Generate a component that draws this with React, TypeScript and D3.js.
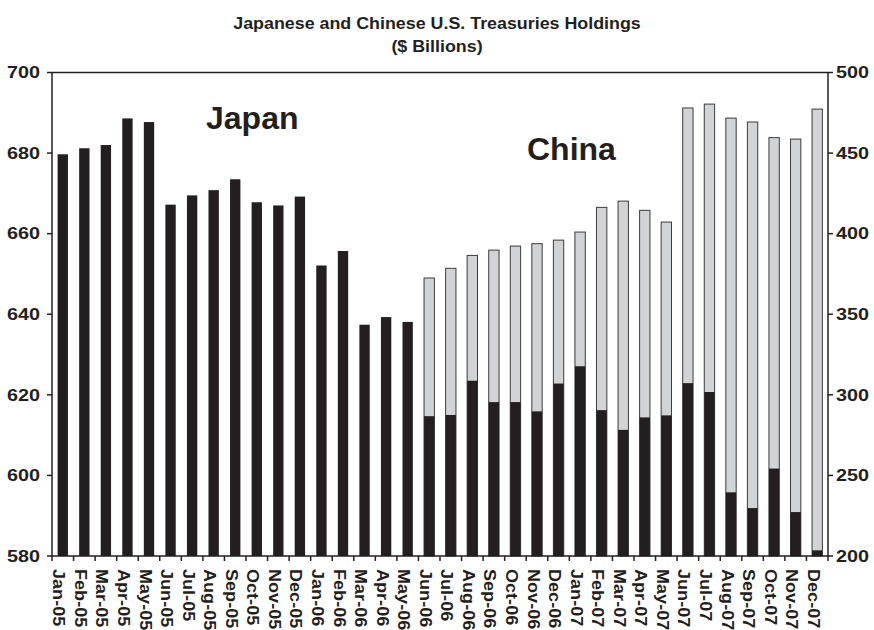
import React from "react";
import * as d3 from "d3";

const months = [
  "Jan-05","Feb-05","Mar-05","Apr-05","May-05","Jun-05","Jul-05","Aug-05","Sep-05","Oct-05","Nov-05","Dec-05",
  "Jan-06","Feb-06","Mar-06","Apr-06","May-06","Jun-06","Jul-06","Aug-06","Sep-06","Oct-06","Nov-06","Dec-06",
  "Jan-07","Feb-07","Mar-07","Apr-07","May-07","Jun-07","Jul-07","Aug-07","Sep-07","Oct-07","Nov-07","Dec-07",
];

const japan = [
  679.7, 681.2, 682.0, 688.6, 687.7, 667.2, 669.5, 670.8, 673.5, 667.8, 667.0, 669.2,
  652.1, 655.7, 637.4, 639.3, 638.1, 614.7, 615.0, 623.5, 618.2, 618.2, 615.9, 622.8,
  627.1, 616.2, 611.3, 614.4, 614.9, 622.9, 620.7, 595.8, 591.9, 601.7, 590.9, 581.4,
];

const china: (number | null)[] = [
  null, null, null, null, null, null, null, null, null, null, null, null,
  null, null, null, null, null, 372.5, 378.5, 386.5, 389.8, 392.3, 393.8, 396.0,
  401.0, 416.3, 420.2, 414.5, 407.2, 478.0, 480.4, 471.7, 469.3, 459.6, 458.7, 477.3,
];

const leftTicks = [580, 600, 620, 640, 660, 680, 700];
const rightTicks = [200, 250, 300, 350, 400, 450, 500];

const W = 874;
const H = 630;
const X0 = 52;
const X1 = 828;
const Y0 = 72.5;
const Y1 = 556;

const FONT = "Arial, 'Liberation Sans', Helvetica, sans-serif";
const INK = "#231f20";

export default function App() {
  const x = d3.scaleBand<string>().domain(months).range([X0, X1]).paddingInner(0.52).paddingOuter(0.26);
  const band = d3.scaleBand<string>().domain(months).range([X0, X1]);
  const yL = d3.scaleLinear().domain([580, 700]).range([Y1, Y0]);
  const yR = d3.scaleLinear().domain([200, 500]).range([Y1, Y0]);
  const bw = x.bandwidth();

  return (
    <svg width={W} height={H} style={{ position: "absolute", left: 0, top: 0, background: "#fff" }}>
      <rect x={0} y={0} width={W} height={H} fill="#fff" />
      <g fontFamily={FONT} fontWeight="bold" fill={INK}>
        <text transform={`translate(437,29) scale(1.05,1)`} textAnchor="middle" fontSize={17}>
          Japanese and Chinese U.S. Treasuries Holdings
        </text>
        <text transform={`translate(437,52) scale(1.05,1)`} textAnchor="middle" fontSize={17}>
          ($ Billions)
        </text>
      </g>

      {/* China bars (behind) */}
      {months.map((m, i) =>
        china[i] == null ? null : (
          <rect
            key={"c" + m}
            x={x(m)! }
            y={yR(china[i] as number)}
            width={bw}
            height={Y1 - yR(china[i] as number)}
            fill="#d1d3d4"
            stroke="#3d3b3c"
            strokeWidth={1}
          />
        )
      )}
      {/* Japan bars */}
      {months.map((m, i) => (
        <rect
          key={"j" + m}
          x={x(m)!}
          y={yL(japan[i])}
          width={bw}
          height={Y1 - yL(japan[i])}
          fill={INK}
        />
      ))}

      {/* frame / axes */}
      <g stroke={INK} strokeWidth={1.5} fill="none">
        <line x1={X0} x2={X1} y1={Y0} y2={Y0} />
        <line x1={X0} x2={X0} y1={Y0} y2={Y1} />
        <line x1={X1} x2={X1} y1={Y0} y2={Y1} />
        <line x1={X0} x2={X1} y1={Y1} y2={Y1} />
        {leftTicks.map((t) => (
          <line key={"lt" + t} x1={X0 - 5} x2={X0} y1={yL(t)} y2={yL(t)} />
        ))}
        {rightTicks.map((t) => (
          <line key={"rt" + t} x1={X1} x2={X1 + 5} y1={yR(t)} y2={yR(t)} />
        ))}
        {months.map((m) => (
          <line key={"bt" + m} x1={band(m)!} x2={band(m)!} y1={Y1} y2={Y1 + 5} />
        ))}
        <line x1={X1} x2={X1} y1={Y1} y2={Y1 + 5} />
      </g>

      <g fontFamily={FONT} fontWeight="bold" fill={INK} fontSize={16.5}>
        {leftTicks.map((t) => (
          <text key={"ll" + t} transform={`translate(40,${yL(t) + 5.8}) scale(1.2,1)`} textAnchor="end">
            {t}
          </text>
        ))}
        {rightTicks.map((t) => (
          <text key={"rl" + t} transform={`translate(836,${yR(t) + 5.8}) scale(1.2,1)`} textAnchor="start">
            {t}
          </text>
        ))}
        {months.map((m) => {
          const cx = band(m)! + band.bandwidth() / 2;
          return (
            <text
              key={"xl" + m}
              transform={`translate(${cx - 9.5},569) rotate(90) scale(1.13,1)`}
              fontSize={16}
            >
              {m}
            </text>
          );
        })}
      </g>

      <g fontFamily={FONT} fontWeight="bold" fill={INK} fontSize={32}>
        <text x={206} y={129}>Japan</text>
        <text x={527} y={160}>China</text>
      </g>
    </svg>
  );
}
